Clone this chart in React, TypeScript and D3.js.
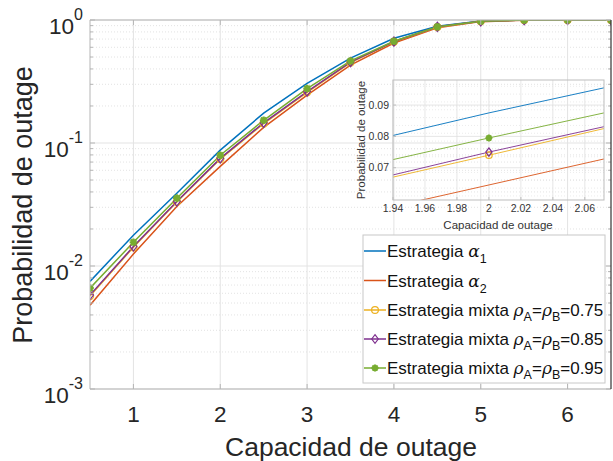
import React from 'react';
import * as d3 from 'd3';

// capacidad de outage (eje x) y probabilidades
const capacities = [0.5, 1, 1.5, 2, 2.5, 3, 3.5, 4, 4.5, 5, 5.5, 6, 6.5];
const alpha1 = [0.0075, 0.0178, 0.039, 0.0875, 0.175, 0.305, 0.49, 0.71, 0.89, 0.98, 0.998, 1, 1];
const alpha2 = [0.0048, 0.0125, 0.0305, 0.0645, 0.134, 0.245, 0.43, 0.65, 0.865, 0.97, 0.997, 1, 1];
const mixta75 = [0.0057, 0.0142, 0.0332, 0.074, 0.144, 0.258, 0.45, 0.665, 0.875, 0.975, 0.998, 1, 1];
const mixta85 = [0.0058, 0.0144, 0.0335, 0.075, 0.146, 0.262, 0.455, 0.668, 0.88, 0.975, 0.998, 1, 1];
const mixta95 = [0.0066, 0.0156, 0.0356, 0.0795, 0.153, 0.277, 0.465, 0.672, 0.88, 0.976, 0.998, 1, 1];

// zoom alrededor de C = 2
const insetCapacities = [1.94, 2, 2.072];
const insetAlpha1 = [0.0803, 0.0875, 0.0955];
const insetAlpha2 = [0.0576, 0.0645, 0.0728];
const insetMixta75 = [0.067, 0.074, 0.0825];
const insetMixta85 = [0.0677, 0.075, 0.0831];
const insetMixta95 = [0.0726, 0.0795, 0.0875];
const insetMarkerAt = [2];

const xTicks = [1, 2, 3, 4, 5, 6];
const yDecades = [0, -1, -2, -3];
const insetXTicks = [1.94, 1.96, 1.98, 2, 2.02, 2.04, 2.06];
const insetYTicks = [0.07, 0.08, 0.09];

const COLORS = ['#0072BD', '#D95319', '#EDB120', '#7E2F8E', '#77AC30'];
const FONT = '"Liberation Sans", Arial, Helvetica, sans-serif';

const series = [
  { name: 'a1', values: alpha1, inset: insetAlpha1, color: COLORS[0], marker: null },
  { name: 'a2', values: alpha2, inset: insetAlpha2, color: COLORS[1], marker: null },
  { name: 'm75', values: mixta75, inset: insetMixta75, color: COLORS[2], marker: 'o', rho: '0.75' },
  { name: 'm85', values: mixta85, inset: insetMixta85, color: COLORS[3], marker: 'd', rho: '0.85' },
  { name: 'm95', values: mixta95, inset: insetMixta95, color: COLORS[4], marker: '*', rho: '0.95' },
];

function Marker({ type, x, y, color, s = 1 }: any) {
  if (type === 'o') return <circle cx={x} cy={y} r={3.6 * s} fill="none" stroke={color} strokeWidth={1.2} />;
  if (type === 'd') {
    const r = 4.6 * s;
    return <path d={`M${x},${y - r}L${x + r * 0.75},${y}L${x},${y + r}L${x - r * 0.75},${y}Z`} fill="none" stroke={color} strokeWidth={1.2} />;
  }
  if (type === '*') {
    const r = 3.8 * s;
    const q = r * 0.72;
    return (
      <path
        d={`M${x - r},${y}L${x + r},${y}M${x},${y - r}L${x},${y + r}M${x - q},${y - q}L${x + q},${y + q}M${x - q},${y + q}L${x + q},${y - q}`}
        stroke={color}
        strokeWidth={2.2 * s}
        fill="none"
      />
    );
  }
  return null;
}

export default function App() {
  const W = 613, H = 461;
  const x = d3.scaleLinear().domain([0.5, 6.5]).range([90, 611]);
  const y = d3.scaleLog().domain([1e-3, 1]).range([389, 20]);

  const line = d3.line<number>()
    .x((_, i) => x(capacities[i]))
    .y((d) => y(d));

  const minor: number[] = [];
  [-3, -2, -1].forEach((p) => {
    for (let k = 2; k <= 9; k++) minor.push(k * Math.pow(10, p));
  });

  // inset
  const ix = d3.scaleLinear().domain([1.94, 2.072]).range([393, 604]);
  const iy = d3.scaleLinear().domain([0.0597, 0.098]).range([200, 80]);
  const iline = d3.line<number>()
    .x((_, i) => ix(insetCapacities[i]))
    .y((d) => iy(d));
  const insetMinorY = d3.range(0.061, 0.098, 0.0025).filter((v) => insetYTicks.every((t) => Math.abs(t - v) > 0.001));

  const legendRows = [251, 280.5, 310, 339, 368];

  return (
    <svg width={W} height={H} style={{ position: 'fixed', left: 0, top: 0, background: '#fff' }} fontFamily={FONT}>
      <defs>
        <clipPath id="main-clip"><rect x={90} y={20} width={521} height={369} /></clipPath>
        <clipPath id="inset-clip"><rect x={393} y={80} width={211} height={120} /></clipPath>
      </defs>

      {/* main grid */}
      <g>
        {minor.map((v) => (
          <line key={'mg' + v} x1={90} x2={611} y1={y(v)} y2={y(v)} stroke="#dcdcdc" strokeWidth={0.8} strokeDasharray="1,2" />
        ))}
        {yDecades.map((p) => (
          <line key={'yg' + p} x1={90} x2={611} y1={y(Math.pow(10, p))} y2={y(Math.pow(10, p))} stroke="#e3e3e3" strokeWidth={1} />
        ))}
        {xTicks.map((t) => (
          <line key={'xg' + t} x1={x(t)} x2={x(t)} y1={20} y2={389} stroke="#e3e3e3" strokeWidth={1} />
        ))}
      </g>

      {/* curves */}
      <g clipPath="url(#main-clip)">
        {series.map((s) => (
          <path key={s.name} d={line(s.values) || ''} fill="none" stroke={s.color} strokeWidth={1.5} />
        ))}
        {series.map((s) =>
          s.marker
            ? s.values.map((v, i) => (
                <Marker key={s.name + i} type={s.marker} x={x(capacities[i])} y={y(v)} color={s.color} />
              ))
            : null
        )}
      </g>

      {/* main axes box + ticks */}
      <g stroke="#b5b5b5" strokeWidth={1} fill="none">
        <line x1={90} x2={611} y1={389} y2={389} />
        <line x1={90} x2={611} y1={20} y2={20} />
        <line x1={90} x2={90} y1={20} y2={389} />
        {xTicks.map((t) => (
          <g key={'xt' + t}>
            <line x1={x(t)} x2={x(t)} y1={389} y2={384} />
            <line x1={x(t)} x2={x(t)} y1={20} y2={25} />
          </g>
        ))}
        {minor.map((v) => (
          <g key={'mt' + v}>
            <line x1={90} x2={93} y1={y(v)} y2={y(v)} />
            <line x1={611} x2={608} y1={y(v)} y2={y(v)} />
          </g>
        ))}
        {yDecades.map((p) => (
          <g key={'yt' + p}>
            <line x1={90} x2={95} y1={y(Math.pow(10, p))} y2={y(Math.pow(10, p))} />
            <line x1={611} x2={606} y1={y(Math.pow(10, p))} y2={y(Math.pow(10, p))} />
          </g>
        ))}
      </g>
      <line x1={611} x2={611} y1={20} y2={389} stroke="#333" strokeWidth={1.2} />

      {/* main tick labels */}
      <g fill="#262626">
        {xTicks.map((t) => (
          <text key={'xl' + t} x={x(t)} y={422} textAnchor="middle" fontSize={22.5}>{t}</text>
        ))}
        {yDecades.map((p) => (
          <text key={'yl' + p} x={83} y={y(Math.pow(10, p)) + 14} textAnchor="end" fontSize={22.5}>
            <tspan>10</tspan>
            <tspan dy={-14} fontSize={16}>{p === 0 ? '0' : String(p)}</tspan>
          </text>
        ))}
        <text x={351} y={456} textAnchor="middle" fontSize={26.5}>Capacidad de outage</text>
        <text transform="translate(32,205) rotate(-90)" textAnchor="middle" fontSize={27}>Probabilidad de outage</text>
      </g>

      {/* inset */}
      <g>
        {insetMinorY.map((v) => (
          <line key={'img' + v} x1={393} x2={604} y1={iy(v)} y2={iy(v)} stroke="#e2e2e2" strokeWidth={0.7} strokeDasharray="1,2" />
        ))}
        {insetYTicks.map((t) => (
          <line key={'iyg' + t} x1={393} x2={604} y1={iy(t)} y2={iy(t)} stroke="#e0e0e0" strokeWidth={0.8} />
        ))}
        {insetXTicks.map((t) => (
          <line key={'ixg' + t} x1={ix(t)} x2={ix(t)} y1={80} y2={200} stroke="#e0e0e0" strokeWidth={0.8} />
        ))}
        <g clipPath="url(#inset-clip)">
          {series.map((s) => (
            <path key={'il' + s.name} d={iline(s.inset) || ''} fill="none" stroke={s.color} strokeWidth={0.9} />
          ))}
          {series.map((s) =>
            s.marker
              ? insetMarkerAt.map((c) => (
                  <Marker key={'im' + s.name + c} type={s.marker} x={ix(c)} y={iy(s.inset[insetCapacities.indexOf(c)])} color={s.color} s={0.9} />
                ))
              : null
          )}
        </g>
        <rect x={393} y={80} width={211} height={120} fill="none" stroke="#bdbdbd" strokeWidth={1} />
        <g stroke="#bdbdbd">
          {insetXTicks.map((t) => (
            <line key={'ixt' + t} x1={ix(t)} x2={ix(t)} y1={200} y2={197} />
          ))}
          {insetYTicks.map((t) => (
            <line key={'iyt' + t} x1={393} x2={396} y1={iy(t)} y2={iy(t)} />
          ))}
        </g>
        <g fill="#333" fontSize={10.5}>
          {insetXTicks.map((t) => (
            <text key={'ixl' + t} x={ix(t)} y={212} textAnchor="middle">{d3.format('')(t)}</text>
          ))}
          {insetYTicks.map((t) => (
            <text key={'iyl' + t} x={389} y={iy(t) + 3.5} textAnchor="end">{d3.format('.2f')(t)}</text>
          ))}
          <text x={498} y={229} textAnchor="middle" fontSize={11.5}>Capacidad de outage</text>
          <text transform="translate(365,140) rotate(-90)" textAnchor="middle" fontSize={11.5}>Probabilidad de outage</text>
        </g>
      </g>

      {/* legend */}
      <g>
        <rect x={363} y={235} width={242} height={148} fill="#fff" stroke="#c8c8c8" strokeWidth={1} />
        {series.map((s, i) => {
          const ly = legendRows[i];
          return (
            <g key={'lg' + s.name}>
              <line x1={364} x2={386} y1={ly} y2={ly} stroke={s.color} strokeWidth={1.5} />
              {s.marker ? <Marker type={s.marker} x={375} y={ly} color={s.color} s={0.95} /> : null}
              <text x={387} y={ly + 6} fontSize={17} fill="#111">
                {s.rho ? (
                  <>
                    <tspan>Estrategia mixta </tspan>
                    <tspan fontStyle="italic" fontFamily='"DejaVu Serif", serif'>ρ</tspan>
                    <tspan dy={5} fontSize={12.5}>A</tspan>
                    <tspan dy={-5}>=</tspan>
                    <tspan fontStyle="italic" fontFamily='"DejaVu Serif", serif'>ρ</tspan>
                    <tspan dy={5} fontSize={12.5}>B</tspan>
                    <tspan dy={-5}>={s.rho}</tspan>
                  </>
                ) : (
                  <>
                    <tspan>Estrategia </tspan>
                    <tspan fontStyle="italic" fontFamily='"DejaVu Serif", serif'>α</tspan>
                    <tspan dy={6} fontSize={12.5}>{i + 1}</tspan>
                  </>
                )}
              </text>
            </g>
          );
        })}
      </g>
    </svg>
  );
}
